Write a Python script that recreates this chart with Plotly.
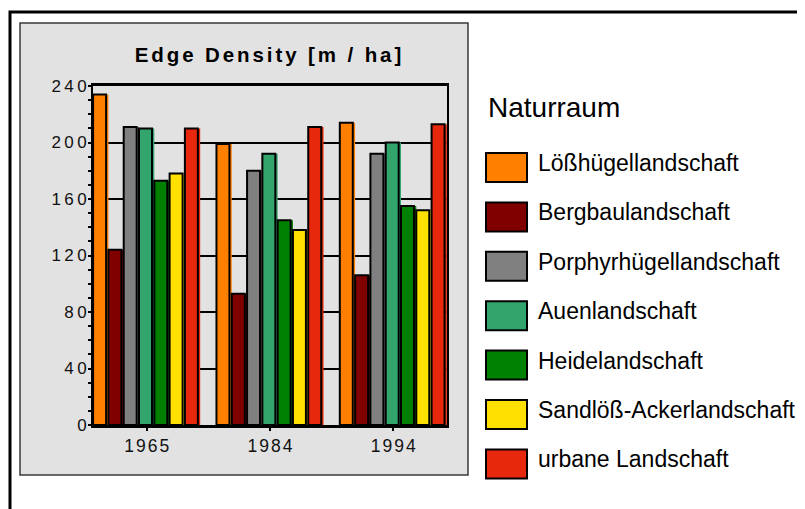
import plotly.graph_objects as go

# ---------------- data ----------------
years = ["1965", "1984", "1994"]
series_names = [
    "Lößhügellandschaft",
    "Bergbaulandschaft",
    "Porphyrhügellandschaft",
    "Auenlandschaft",
    "Heidelandschaft",
    "Sandlöß-Ackerlandschaft",
    "urbane Landschaft",
]
loess = [234, 199, 214]
bergbau = [124, 93, 106]
porphyr = [211, 180, 192]
auen = [210, 192, 200]
heide = [173, 145, 155]
sandloess = [178, 138, 152]
urban = [210, 211, 213]
series_values = [loess, bergbau, porphyr, auen, heide, sandloess, urban]
colors = ["#FF8000", "#800000", "#808080", "#32A56C", "#008000", "#FFE000", "#E8280C"]
y_tick_vals = [0, 40, 80, 120, 160, 200, 240]
title_text = "Edge Density [m / ha]"
legend_title = "Naturraum"

# ---------------- geometry ----------------
OFF = 8  # page body margin
W, H = 805 - OFF, 509 - OFF
L, R, T, B = 93 - OFF, 447 - OFF, 86 - OFF, 425 - OFF  # plot area in figure px

def px_x(px):
    return (px - OFF - L) / (R - L)

def px_y(py):
    return (B - (py - OFF)) / (B - T)

def spaced(s, sp):
    return f"<span style='letter-spacing:{sp}px'>{s[:-1]}</span>{s[-1]}"

n = len(series_names)
half = 0.434
pitch = 2 * half / n
shift = 0.0187
bar_w = pitch - shift

xs = list(range(len(years)))
fig = go.Figure()
for i, (name, vals, col) in enumerate(zip(series_names, series_values, colors)):
    off = -half + i * pitch
    fig.add_trace(go.Bar(
        x=xs, y=vals, offset=off + shift, width=bar_w,
        marker=dict(color=col, line=dict(width=0)),
        showlegend=False, hoverinfo="skip",
    ))
    fig.add_trace(go.Bar(
        x=xs, y=vals, offset=off, width=bar_w, name=name,
        marker=dict(color=col, line=dict(color="black", width=2)),
        showlegend=False,
    ))

shapes = []
shapes.append(dict(type="rect", xref="paper", yref="paper",
                   x0=px_x(20), x1=px_x(468), y0=px_y(475), y1=px_y(23),
                   fillcolor="#E2E2E2", line=dict(color="#3A3A3A", width=1.5),
                   layer="below"))
shapes.append(dict(type="path", xref="paper", yref="paper",
                   path=f"M {px_x(10)} {px_y(520)} L {px_x(10)} {px_y(12)} L {px_x(815)} {px_y(12)}",
                   line=dict(color="black", width=3)))

FONT = "Liberation Sans, Arial, Helvetica"
annotations = []
annotations.append(dict(text=legend_title, xref="paper", yref="paper",
                        x=px_x(486), y=px_y(107), xanchor="left", yanchor="middle",
                        showarrow=False, font=dict(family=FONT, size=28, color="black")))
top0, step = 153, 49.4
for k, (name, col) in enumerate(zip(series_names, colors)):
    top = top0 + k * step
    shapes.append(dict(type="rect", xref="paper", yref="paper",
                       x0=px_x(486), x1=px_x(527), y0=px_y(top + 29), y1=px_y(top),
                       fillcolor=col, line=dict(color="black", width=2)))
    annotations.append(dict(text=name, xref="paper", yref="paper",
                            x=px_x(536), y=px_y(top + 10), xanchor="left", yanchor="middle",
                            showarrow=False,
                            font=dict(family=FONT, size=23, color="black")))

fig.update_layout(
    width=W, height=H,
    margin=dict(l=L, r=W - R, t=T, b=H - B, pad=0),
    paper_bgcolor="white", plot_bgcolor="white",
    barmode="overlay",
    showlegend=False,
    title=dict(text=spaced(title_text, 2.9), x=(268 - OFF) / W, xanchor="center",
               y=1 - (55 - OFF) / H, yanchor="middle", yref="container", xref="container",
               font=dict(family=FONT, size=20.5, color="black", weight="bold")),
    shapes=shapes, annotations=annotations,
    font=dict(family=FONT, color="black"),
)
fig.update_xaxes(
    range=[-0.435, 2.435], tickvals=xs, ticktext=[spaced(y, 2.0) for y in years],
    showline=True, linecolor="black", linewidth=2.5, mirror=True,
    ticks="outside", ticklen=3, tickwidth=2, tickcolor="black",
    showgrid=False, zeroline=False,
    tickfont=dict(size=17.5, color="#111111"),
)
fig.update_yaxes(
    range=[0, 240], tickvals=y_tick_vals, ticktext=[spaced(str(v), 3.3) for v in y_tick_vals],
    showline=True, linecolor="black", linewidth=2, mirror=True,
    ticks="outside", ticklen=3, tickwidth=2, tickcolor="black",
    showgrid=True, gridcolor="black", gridwidth=1.5, zeroline=False,
    minor=dict(dtick=10, ticks="outside", ticklen=3, tickwidth=1.5, tickcolor="black", showgrid=False),
    ticklabelstandoff=-2,
    tickfont=dict(size=17, color="#111111"),
)

fig.write_html("out.html")
